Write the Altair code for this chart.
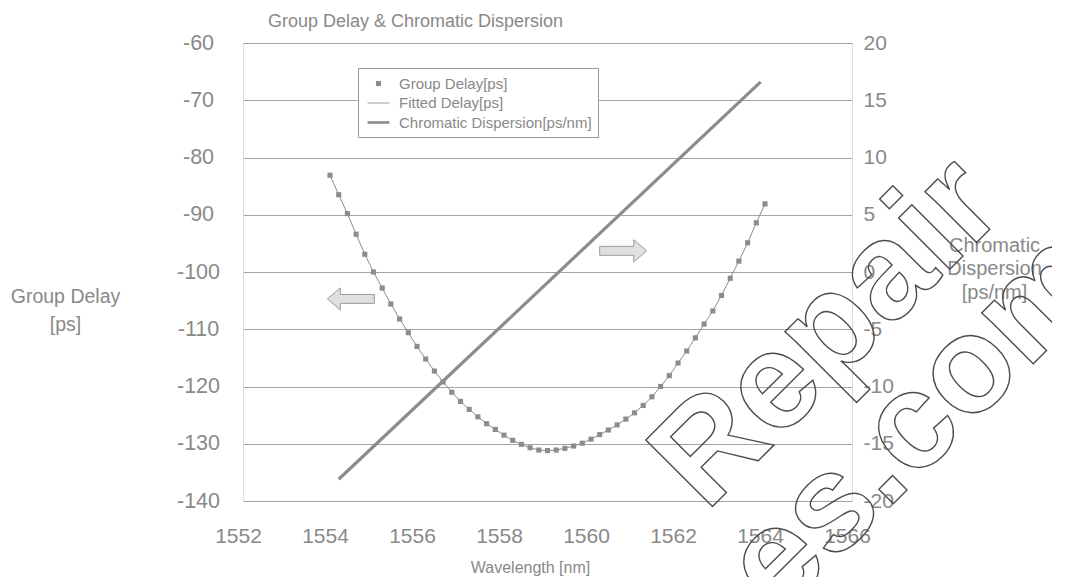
import altair as alt
import pandas as pd

# ---- data ----
wavelength = [1554.0, 1554.2, 1554.4, 1554.6, 1554.8, 1555.0, 1555.2, 1555.4, 1555.6, 1555.8,
              1556.0, 1556.2, 1556.4, 1556.6, 1556.8, 1557.0, 1557.2, 1557.4, 1557.6, 1557.8,
              1558.0, 1558.2, 1558.4, 1558.6, 1558.8, 1559.0, 1559.2, 1559.4, 1559.6, 1559.8,
              1560.0, 1560.2, 1560.4, 1560.6, 1560.8, 1561.0, 1561.2, 1561.4, 1561.6, 1561.8,
              1562.0, 1562.2, 1562.4, 1562.6, 1562.8, 1563.0, 1563.2, 1563.4, 1563.6, 1563.8,
              1564.0]
group_delay = [-83.1, -86.5, -89.8, -93.4, -96.9, -100.0, -102.8, -105.6, -108.2, -110.6,
               -113.0, -115.2, -117.3, -119.2, -121.0, -122.6, -124.0, -125.3, -126.5, -127.5,
               -128.5, -129.4, -130.1, -130.7, -131.1, -131.2, -131.1, -130.8, -130.4, -129.9,
               -129.2, -128.4, -127.6, -126.7, -125.7, -124.6, -123.3, -121.8, -120.0, -118.1,
               -115.9, -113.8, -111.5, -109.1, -106.8, -104.1, -101.1, -98.1, -94.9, -91.4,
               -88.1]
fitted_delay = group_delay
cd_wavelength = [1554.2, 1563.9]
cd_value = [-18.1, 16.6]

series_names = ["Group Delay[ps]", "Fitted Delay[ps]", "Chromatic Dispersion[ps/nm]"]
x_ticks = [1552, 1554, 1556, 1558, 1560, 1562, 1564, 1566]
left_ticks = [-140, -130, -120, -110, -100, -90, -80, -70, -60]
right_ticks = [-20, -15, -10, -5, 0, 5, 10, 15, 20]

arrow_x = [1554.48, 1560.74]
arrow_y = [-104.7, -96.3]

watermark_lines = ["Repair", "ces.com"]

# ---- styling ----
GRAY = "#8c8c8c"
TEXT = "#898989"
FONT = "Liberation Sans"

SQ = "M-0.27,-0.27H0.27V0.27H-0.27Z"
THIN = "M-1.15,-0.045H1.15V0.045H-1.15Z"
THICK = "M-1.15,-0.14H1.15V0.14H-1.15Z"
LEFT_ARROW = "M-1,0L-0.45,-0.47L-0.45,-0.19L1,-0.19L1,0.19L-0.45,0.19L-0.45,0.47Z"
RIGHT_ARROW = "M1,0L0.45,-0.47L0.45,-0.19L-1,-0.19L-1,0.19L0.45,0.19L0.45,0.47Z"

gd_df = pd.DataFrame({"wl": wavelength, "gd": group_delay, "series": series_names[0]})
fit_df = pd.DataFrame({"wl": wavelength, "gd": fitted_delay})
cd_df = pd.DataFrame({"wl": cd_wavelength, "cd": cd_value})
arr_l = pd.DataFrame({"wl": [arrow_x[0]], "gd": [arrow_y[0]]})
arr_r = pd.DataFrame({"wl": [arrow_x[1]], "gd": [arrow_y[1]]})
wm1 = pd.DataFrame({"t": [watermark_lines[0]]})
wm2 = pd.DataFrame({"t": [watermark_lines[1]]})

LBL = "toString(datum.value)"

x_enc = alt.X("wl:Q", scale=alt.Scale(domain=[1552, 1566], nice=False, zero=False),
              axis=alt.Axis(values=x_ticks, grid=False, ticks=False, domain=False,
                            labelExpr=LBL, labelOffset=-5,
                            labelFontSize=21, labelColor=TEXT, labelFont=FONT, labelPadding=24,
                            labelFlush=False,
                            title="Wavelength [nm]", titleFontSize=16, titleColor=TEXT,
                            titleFont=FONT, titleFontWeight="normal", titleX=287, titleY=66,
                            titleAlign="center", titleBaseline="middle"))

y_left = alt.Y("gd:Q", scale=alt.Scale(domain=[-140, -60], nice=False, zero=False),
               axis=alt.Axis(values=left_ticks, grid=True, gridColor="#a3a3a3", gridWidth=1,
                             labelExpr=LBL, labelAlign="center",
                             ticks=False, domain=False, labelFontSize=21.5, labelColor=TEXT,
                             labelFont=FONT, labelPadding=45, labelFlush=False,
                             title=["Group Delay", "[ps]"], titleAngle=0, titleFontSize=19.5,
                             titleColor=TEXT, titleFont=FONT, titleFontWeight="normal",
                             titleAlign="center", titleBaseline="top", titleX=-178, titleY=244,
                             titleLineHeight=28))

y_right = alt.Y("cd:Q", scale=alt.Scale(domain=[-20, 20], nice=False, zero=False),
                axis=alt.Axis(orient="right", values=right_ticks, grid=False, ticks=False,
                              labelExpr=LBL,
                              domain=False, labelFontSize=21, labelColor=TEXT, labelFont=FONT,
                              labelPadding=11, labelFlush=False,
                              title=["Chromatic", "Dispersion", "[ps/nm]"], titleAngle=0,
                              titleFontSize=20, titleColor=TEXT, titleFont=FONT,
                              titleFontWeight="normal", titleAlign="center", titleBaseline="top",
                              titleX=142, titleY=192, titleLineHeight=23.5))

fit_line = alt.Chart(fit_df).mark_line(color=GRAY, strokeWidth=1).encode(x=x_enc, y=y_left)

points = alt.Chart(gd_df).mark_point(filled=True, size=361, color=GRAY, opacity=1,
                                     strokeWidth=0).encode(
    x=x_enc, y=y_left,
    shape=alt.Shape("series:N",
                    scale=alt.Scale(domain=series_names, range=[SQ, THIN, THICK]),
                    legend=alt.Legend(orient="none", legendX=115, legendY=25, title=None,
                                      fillColor="white", strokeColor="#999", padding=6,
                                      labelFontSize=15, labelColor=TEXT, labelFont=FONT,
                                      labelLimit=400, symbolOffset=5,
                                      symbolSize=361, symbolFillColor=GRAY,
                                      symbolStrokeWidth=0, rowPadding=1.5, labelOffset=11,
                                      symbolType="square")))

left_arrow = alt.Chart(arr_l).mark_point(shape=LEFT_ARROW, size=2209, filled=True,
                                         fill="#e0e0e0", stroke="#9a9a9a", strokeWidth=1,
                                         opacity=1).encode(x=x_enc, y=y_left)
right_arrow = alt.Chart(arr_r).mark_point(shape=RIGHT_ARROW, size=2209, filled=True,
                                          fill="#e0e0e0", stroke="#9a9a9a", strokeWidth=1,
                                          opacity=1).encode(x=x_enc, y=y_left)

left = alt.layer(left_arrow, right_arrow, fit_line, points)

cd_line = alt.Chart(cd_df).mark_line(color=GRAY, strokeWidth=3.2).encode(x=x_enc, y=y_right)

wm_style = dict(font=FONT, fontWeight="bold", fontSize=137, angle=315, align="left",
                baseline="alphabetic", fillOpacity=0, stroke="#4d4d4d", strokeWidth=1.4)
wm_a = alt.Chart(wm1).mark_text(**wm_style).encode(text="t:N", x=alt.value(463), y=alt.value(470))
wm_b = alt.Chart(wm2).mark_text(**wm_style).encode(text="t:N", x=alt.value(482), y=alt.value(629))

chart = alt.layer(left, cd_line, wm_a, wm_b).resolve_scale(y="independent").properties(
    width=609, height=458,
    autosize=alt.AutoSizeParams(type="none"),
    padding={"left": 235, "top": 35, "right": 200, "bottom": 76},
    title=alt.Title("Group Delay & Chromatic Dispersion", anchor="start", dx=25,
                    fontSize=18, color=TEXT, font=FONT, fontWeight="normal",
                    frame="group", offset=1),
).configure_view(stroke="#9a9a9a", strokeWidth=1).configure(background="white")

chart.save("out.html", embed_options={"renderer": "svg", "actions": False})
